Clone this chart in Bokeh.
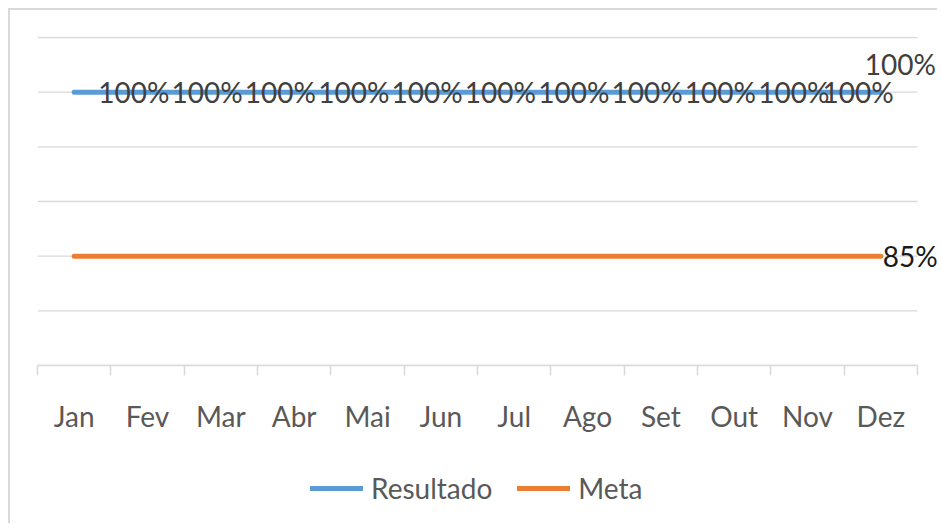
from bokeh.plotting import figure
from bokeh.layouts import column
from bokeh.models import (ColumnDataSource, Range1d, LinearAxis, FixedTicker,
                          LabelSet, Legend, LegendItem, CustomJSTickFormatter)
from bokeh.core.properties import value
from bokeh.embed import file_html
from bokeh.resources import INLINE

months = ["Jan", "Fev", "Mar", "Abr", "Mai", "Jun", "Jul", "Ago", "Set", "Out", "Nov", "Dez"]
resultado = [1.00, 1.00, 1.00, 1.00, 1.00, 1.00, 1.00, 1.00, 1.00, 1.00, 1.00, 1.00]
meta = [0.85, 0.85, 0.85, 0.85, 0.85, 0.85, 0.85, 0.85, 0.85, 0.85, 0.85, 0.85]
y_min, y_max, y_step = 0.75, 1.05, 0.05

FONT = "Lato"
FS = "28px"
BLUE = "#5B9BD5"
ORANGE = "#ED7D31"
GRID = "#D9D9D9"

# layout (pixels)
W = 929
ML, MR, MT = 27, 0, 26
AXIS_PX = 880.0     # width of the plotted category band
PLOT_PX = 328.0     # height of the value band

n = len(months)
xpos = [i + 0.5 for i in range(n)]          # category centres
bounds = [float(i) for i in range(n + 1)]    # category boundaries
n_grid = int(round((y_max - y_min) / y_step)) + 1
grid_ticks = [round(y_min + i * y_step, 4) for i in range(n_grid)]
x_end = n * (W - ML - MR) / AXIS_PX          # room on the right for the end labels
y_pad = (y_max - y_min) / PLOT_PX            # 1px headroom so the top gridline is not clipped

# label placement (styling, not data)
res_dx = [24] * (n - 2) + [15, -16]
res_dy = [0] * (n - 1) + [28]

src = ColumnDataSource(dict(
    x=xpos,
    month=months,
    resultado=resultado,
    meta=meta,
    res_txt=[f"{v:.0%}" for v in resultado],
    meta_txt=[""] * (n - 1) + [f"{meta[-1]:.0%}"],
    res_dx=res_dx,
    res_dy=res_dy,
))
grid_src = ColumnDataSource(dict(g=grid_ticks))

p = figure(width=W, height=435, output_backend="svg", toolbar_location=None,
           x_range=Range1d(0, x_end), y_range=Range1d(y_min, y_max + y_pad),
           x_axis_location=None, y_axis_location=None,
           min_border_left=ML, min_border_right=MR, min_border_top=MT, min_border_bottom=80)
p.styles = {"border-top": "2px solid #D9D9D9", "border-left": "2px solid #D9D9D9"}
p.outline_line_color = None
p.background_fill_color = "white"
p.border_fill_color = "white"
p.grid.visible = False

# horizontal gridlines limited to the category band
p.segment(x0=0, x1=n, y0="g", y1="g", source=grid_src, line_color=GRID, line_width=1.4)

xaxis = LinearAxis(ticker=FixedTicker(ticks=xpos, minor_ticks=bounds), bounds=(0, n),
                   formatter=CustomJSTickFormatter(args=dict(months=months),
                                                   code="return months[Math.floor(tick)];"),
                   major_tick_out=0, major_tick_in=0, minor_tick_out=10, minor_tick_in=0,
                   axis_line_color=GRID, axis_line_width=1.5,
                   minor_tick_line_color=GRID, minor_tick_line_width=1.5,
                   major_label_text_font=FONT, major_label_text_font_size=FS,
                   major_label_text_color="#595959", major_label_standoff=23)
p.add_layout(xaxis, "below")

r_res = p.line("x", "resultado", source=src, line_color=BLUE, line_width=5, line_cap="round")
r_meta = p.line("x", "meta", source=src, line_color=ORANGE, line_width=5, line_cap="round")

p.add_layout(LabelSet(x="x", y="resultado", text="res_txt", source=src,
                      x_offset="res_dx", y_offset="res_dy",
                      text_font=value(FONT), text_font_size=FS, text_color="#404040",
                      text_align="left", text_baseline="middle"))
p.add_layout(LabelSet(x="x", y="meta", text="meta_txt", source=src,
                      x_offset=2, y_offset=0,
                      text_font=value(FONT), text_font_size=FS, text_color="#1A1A1A",
                      text_align="left", text_baseline="middle"))

# legend strip below the chart (same series, drawn out of view so only the key shows)
p2 = figure(width=W, height=80, output_backend="svg", toolbar_location=None,
            x_range=Range1d(0, n), y_range=Range1d(0, y_min / 2),
            x_axis_location=None, y_axis_location=None,
            min_border_left=0, min_border_right=0, min_border_top=0, min_border_bottom=0)
p2.styles = {"border-left": "2px solid #D9D9D9"}
p2.outline_line_color = None
p2.grid.visible = False
p2.background_fill_color = "white"
p2.border_fill_color = "white"
k_res = p2.line("x", "resultado", source=src, line_color=BLUE, line_width=5, line_cap="round")
k_meta = p2.line("x", "meta", source=src, line_color=ORANGE, line_width=5, line_cap="round")

legend = Legend(items=[LegendItem(label="Resultado", renderers=[k_res]),
                       LegendItem(label="Meta", renderers=[k_meta])],
                orientation="horizontal", location=(273, 18),
                label_text_font=FONT, label_text_font_size=FS, label_text_color="#595959",
                glyph_width=53, glyph_height=20, label_standoff=8, spacing=25,
                padding=0, margin=0, border_line_color=None, background_fill_color=None)
p2.add_layout(legend, "center")

layout = column(p, p2, spacing=0)
layout.styles = {"margin-left": "8px", "margin-top": "8px"}

open("out.html", "w").write(file_html(layout, INLINE))
